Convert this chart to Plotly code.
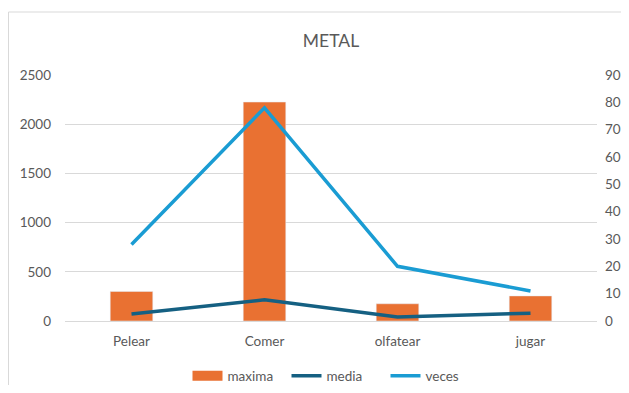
import plotly.graph_objects as go

categories = ["Pelear", "Comer", "olfatear", "jugar"]
maxima = [300, 2225, 175, 255]
media = [70, 215, 40, 80]
veces = [28, 78, 20, 11]

left_ticks = [0, 500, 1000, 1500, 2000, 2500]
right_ticks = [0, 10, 20, 30, 40, 50, 60, 70, 80, 90]

gray = "#595959"
orange = "#E97132"
fig = go.Figure()
fig.add_trace(go.Bar(x=categories, y=maxima, name="maxima", marker_color=orange,
                     width=0.32, yaxis="y", showlegend=False, legendgroup="maxima"))
# legend swatch for maxima (wide rectangle like the reference)
fig.add_trace(go.Scatter(x=[None], y=[None], name="maxima", mode="lines",
                         line=dict(color=orange, width=10), legendgroup="maxima"))
fig.add_trace(go.Scatter(x=categories, y=media, name="media", mode="lines",
                         line=dict(color="#156082", width=3.5), yaxis="y"))
fig.add_trace(go.Scatter(x=categories, y=veces, name="veces", mode="lines",
                         line=dict(color="#1A9CD3", width=3.5), yaxis="y2"))

# page has an 8px body margin: the figure is drawn 8px in from the window edge
OFF = 8
W, H = 629 - 2 * OFF, 393 - 2 * OFF
ml, mt = 65 - OFF, 75 - OFF
mr = W - (597 - OFF)
mb = H - (321 - OFF)
pw, ph = W - ml - mr, H - mt - mb

fs = 13.5
fig.update_layout(
    width=W, height=H,
    margin=dict(l=ml, r=mr, t=mt, b=mb, autoexpand=False),
    paper_bgcolor="white", plot_bgcolor="white",
    font=dict(family="Lato, Open Sans, sans-serif", color=gray, size=fs),
    title=dict(text="METAL", x=0.5, xanchor="center", xref="paper", yref="container",
               y=1 - (41 - OFF) / H, yanchor="middle", font=dict(size=17.5, color=gray)),
    xaxis=dict(showgrid=False, showline=True, linecolor="#D9D9D9", linewidth=1,
               ticks="", ticklabelstandoff=8,
               tickfont=dict(size=fs, color=gray), automargin=False),
    yaxis=dict(range=[0, 2500], tickvals=left_ticks, showgrid=True, gridcolor="#D9D9D9",
               zeroline=False, showline=False, ticks="", ticklabelstandoff=13,
               tickfont=dict(size=fs, color=gray), automargin=False),
    yaxis2=dict(range=[0, 90], tickvals=right_ticks, overlaying="y", side="right",
                showgrid=False, zeroline=False, showline=False, ticks="",
                ticklabelstandoff=7,
                tickfont=dict(size=fs, color=gray), automargin=False),
    bargap=0.68,
    showlegend=True,
    legend=dict(orientation="h", x=0.5 + 5 / pw, xanchor="center", xref="paper",
                yref="container", y=1 - (376 - OFF) / H, yanchor="middle",
                font=dict(size=fs, color=gray), itemwidth=30, tracegroupgap=0,
                entrywidth=54, entrywidthmode="pixels"),
    shapes=[dict(type="rect", xref="paper", yref="paper",
                 x0=(0.5 - ml) / pw, x1=(W + 5 - ml) / pw,
                 y0=-(H + 5 - mt - ph) / ph, y1=(H - (12 - OFF) - mb) / ph,
                 line=dict(color="#D9D9D9", width=1), fillcolor="rgba(0,0,0,0)", layer="below")],
)
fig.write_html("out.html")
